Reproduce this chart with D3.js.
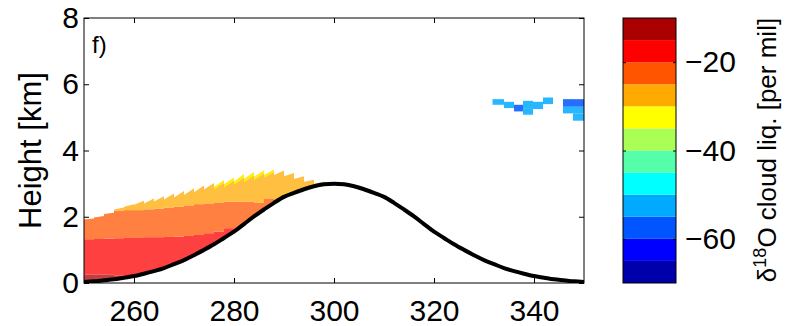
<!DOCTYPE html>
<html>
<head>
<meta charset="utf-8">
<script src="https://cdn.jsdelivr.net/npm/d3@7"></script>
<style>
  body { margin: 0; background: #fff; }
  svg { display: block; font-family: "Liberation Sans", Arial, Helvetica, sans-serif; }
</style>
</head>
<body>
<svg id="chart" width="801" height="326"></svg>
<script>
// axis ranges and ticks
const xDomain = [250, 350];
const yDomain = [0, 8];
const cDomain = [-70, -10];
const xTicks = [260, 280, 300, 320, 340];
const yTicks = [0, 2, 4, 6, 8];
const cTicks = [-20, -40, -60];

// jet(12) colormap
const jetColors = [
  '#0000aa', '#0000ff', '#0055ff', '#00aaff', '#00ffff', '#55ffaa',
  '#aaff55', '#ffff00', '#ffaa00', '#ff5500', '#ff0000', '#aa0000'
];

// terrain height [km] along x [km]
const terrainX = d3.range(250, 351, 2);
const terrainH = [
  0.03, 0.05, 0.08, 0.11, 0.16, 0.21, 0.28, 0.36, 0.45, 0.57, 0.69, 0.84, 1.00,
  1.17, 1.36, 1.55, 1.78, 2.01, 2.22, 2.42, 2.60, 2.72, 2.83, 2.92, 2.98, 3.00,
  2.98, 2.92, 2.83, 2.72, 2.60, 2.42, 2.22, 2.01, 1.78, 1.55, 1.36, 1.17, 1.00,
  0.84, 0.69, 0.57, 0.45, 0.36, 0.28, 0.21, 0.16, 0.11, 0.08, 0.05, 0.03
];

// low cloud columns (2 km wide), heights in km
const colX0 = [250, 252, 254, 256, 258, 260, 262, 264, 266, 268, 270, 272,
  274, 276, 278, 280, 282, 284, 286, 288, 290, 292, 294, 296];
const topL = [1.92, 1.98, 2.08, 2.22, 2.30, 2.36, 2.40, 2.46, 2.52, 2.58, 2.66, 2.74,
  2.82, 2.90, 2.98, 3.06, 3.14, 3.20, 3.26, 3.26, 3.22, 3.14, 3.06, 3.00];
const topR = [1.95, 2.02, 2.12, 2.28, 2.38, 2.48, 2.55, 2.62, 2.70, 2.78, 2.86, 2.94,
  3.02, 3.10, 3.18, 3.28, 3.34, 3.40, 3.42, 3.40, 3.32, 3.22, 3.12, 3.06];
const darkRedTop = [0.25, 0.25, 0.25, 0.22, 0.20, null, null, null, null, null, null, null,
  null, null, null, null, null, null, null, null, null, null, null, null];
const redTop = [1.32, 1.33, 1.34, 1.35, 1.36, 1.37, 1.38, 1.38, 1.39, 1.40, 1.42, 1.45,
  1.50, 1.55, 1.65, null, null, null, null, null, null, null, null, null];
const orangeTop = [1.95, 2.02, 2.12, 2.18, 2.20, 2.20, 2.22, 2.24, 2.27, 2.30, 2.34, 2.38,
  2.40, 2.43, 2.45, 2.45, 2.45, 2.42, 2.55, null, null, null, null, null];
const yellowDepth = [0, 0, 0, 0, 0, 0, 0, 0, 0, 0, 0, 0,
  0, 0.08, 0.1, 0.1, 0.1, 0.1, 0.08, 0, 0, 0, 0, 0];
// delta values of the layers: dark red, red, orange, yellow-orange, yellow
const layerVals = [-12, -17, -22, -27, -32];

// upper cloud cells
const blueX0 = [331.7, 334.0, 336.0, 337.8, 337.8, 339.8, 341.8, 345.8, 345.8, 347.8, 347.8, 347.8];
const blueX1 = [334.0, 336.0, 337.8, 339.8, 339.8, 341.8, 343.8, 347.8, 347.8, 350.0, 350.0, 350.0];
const blueBot = [5.38, 5.28, 5.18, 5.08, 5.28, 5.25, 5.40, 5.32, 5.12, 5.32, 5.12, 4.90];
const blueTop = [5.55, 5.47, 5.38, 5.28, 5.50, 5.47, 5.60, 5.55, 5.32, 5.55, 5.32, 5.12];
const blueVal = [-52, -52, -57, -52, -52, -52, -52, -57, -52, -57, -52, -52];

const margin = {left: 84, top: 18, right: 584, bottom: 283};
const svg = d3.select('#chart');

const x = d3.scaleLinear().domain(xDomain).range([margin.left, margin.right]);
const y = d3.scaleLinear().domain(yDomain).range([margin.bottom, margin.top]);
const color = d3.scaleQuantize().domain(cDomain).range(jetColors);

svg.append('clipPath').attr('id', 'plotClip')
  .append('rect')
  .attr('x', margin.left).attr('y', margin.top)
  .attr('width', margin.right - margin.left)
  .attr('height', margin.bottom - margin.top);

const plot = svg.append('g').attr('clip-path', 'url(#plotClip)');

// build cloud quads
const ground = (xv) => terrainH[terrainX.indexOf(xv)];
const cells = [];
colX0.forEach((xa, i) => {
  const xb = xa + 2;
  const gL = ground(xa), gR = ground(xb);
  let prevL = gL, prevR = gR;
  const bounds = [darkRedTop[i], redTop[i], orangeTop[i], 'top'];
  bounds.forEach((b, k) => {
    if (b === null) return;
    let curL, curR;
    if (b === 'top') {
      curL = topL[i]; curR = topR[i];
    } else {
      curL = Math.min(Math.max(b, gL), topL[i]);
      curR = Math.min(Math.max(b, gR), topR[i]);
    }
    if (curL > prevL || curR > prevR) {
      cells.push({x0: xa, x1: xb, b0: prevL, b1: prevR, t0: curL, t1: curR, v: layerVals[k]});
    }
    prevL = Math.max(prevL, curL); prevR = Math.max(prevR, curR);
  });
  if (yellowDepth[i] > 0) {
    cells.push({x0: xa, x1: xb, b0: topL[i] - yellowDepth[i], b1: topR[i] - yellowDepth[i],
      t0: topL[i], t1: topR[i], v: layerVals[4]});
  }
});

const quad = (d) => `M${x(d.x0)},${y(d.b0)}L${x(d.x1)},${y(d.b1)}L${x(d.x1)},${y(d.t1)}L${x(d.x0)},${y(d.t0)}Z`;

plot.append('g').selectAll('path')
  .data(cells)
  .join('path')
  .attr('d', quad)
  .attr('fill', (d) => color(d.v))
  .attr('fill-opacity', 0.75);

const blueCells = blueX0.map((v, i) => ({
  x0: v, x1: blueX1[i], b0: blueBot[i], b1: blueBot[i], t0: blueTop[i], t1: blueTop[i], v: blueVal[i]
}));
plot.append('g').selectAll('path')
  .data(blueCells)
  .join('path')
  .attr('d', quad)
  .attr('fill', (d) => color(d.v))
  .attr('fill-opacity', 0.85);

// terrain
plot.append('path')
  .datum(terrainX.map((v, i) => [v, terrainH[i]]))
  .attr('fill', 'none')
  .attr('stroke', '#000')
  .attr('stroke-width', 4)
  .attr('d', d3.line().x((d) => x(d[0])).y((d) => y(d[1])).curve(d3.curveMonotoneX));

// axes
const styleAxis = (g) => {
  g.select('.domain').remove();
  g.selectAll('line').attr('stroke', '#000');
  g.selectAll('text').attr('font-size', 30).attr('fill', '#000');
};
svg.append('g').attr('transform', `translate(0,${margin.bottom})`)
  .call(d3.axisBottom(x).tickValues(xTicks).tickSize(-5).tickPadding(17))
  .call(styleAxis);
svg.append('g').attr('transform', `translate(0,${margin.top})`)
  .call(d3.axisTop(x).tickValues(xTicks).tickSize(-5).tickFormat(''))
  .call(styleAxis);
svg.append('g').attr('transform', `translate(${margin.left},0)`)
  .call(d3.axisLeft(y).tickValues(yTicks).tickSize(-5).tickPadding(5))
  .call(styleAxis);
svg.append('g').attr('transform', `translate(${margin.right},0)`)
  .call(d3.axisRight(y).tickValues(yTicks).tickSize(-5).tickFormat(''))
  .call(styleAxis);

svg.append('rect')
  .attr('x', margin.left).attr('y', margin.top)
  .attr('width', margin.right - margin.left)
  .attr('height', margin.bottom - margin.top)
  .attr('fill', 'none').attr('stroke', '#000').attr('stroke-width', 1);

svg.append('text')
  .attr('x', 92).attr('y', 53)
  .attr('font-size', 24)
  .text('f)');

svg.append('text')
  .attr('transform', `translate(41,${(margin.top + margin.bottom) / 2}) rotate(-90)`)
  .attr('text-anchor', 'middle')
  .attr('font-size', 31)
  .text('Height [km]');

// colorbar
const cb = {left: 623, right: 676, top: 18, bottom: 283};
const cy = d3.scaleLinear().domain(cDomain).range([cb.bottom, cb.top]);
const bands = color.range().map((c) => ({c, ext: color.invertExtent(c)}));
svg.append('g').selectAll('rect')
  .data(bands)
  .join('rect')
  .attr('x', cb.left)
  .attr('width', cb.right - cb.left)
  .attr('y', (d) => cy(d.ext[1]))
  .attr('height', (d) => cy(d.ext[0]) - cy(d.ext[1]))
  .attr('fill', (d) => d.c);

svg.append('g').attr('transform', `translate(${cb.right},0)`)
  .call(d3.axisRight(cy).tickValues(cTicks).tickSize(-3).tickPadding(9))
  .call(styleAxis);
svg.append('g').attr('transform', `translate(${cb.left},0)`)
  .call(d3.axisLeft(cy).tickValues(cTicks).tickSize(-3).tickFormat(''))
  .call(styleAxis);
svg.append('rect')
  .attr('x', cb.left).attr('y', cb.top)
  .attr('width', cb.right - cb.left).attr('height', cb.bottom - cb.top)
  .attr('fill', 'none').attr('stroke', '#000').attr('stroke-width', 1);

const cLabel = svg.append('text')
  .attr('transform', `translate(776,150) rotate(-90)`)
  .attr('text-anchor', 'middle')
  .attr('font-size', 26);
cLabel.append('tspan').text('δ');
cLabel.append('tspan').attr('font-size', 18).attr('dy', -10).text('18');
cLabel.append('tspan').attr('dy', 10).text('O cloud liq. [per mil]');
</script>
</body>
</html>
